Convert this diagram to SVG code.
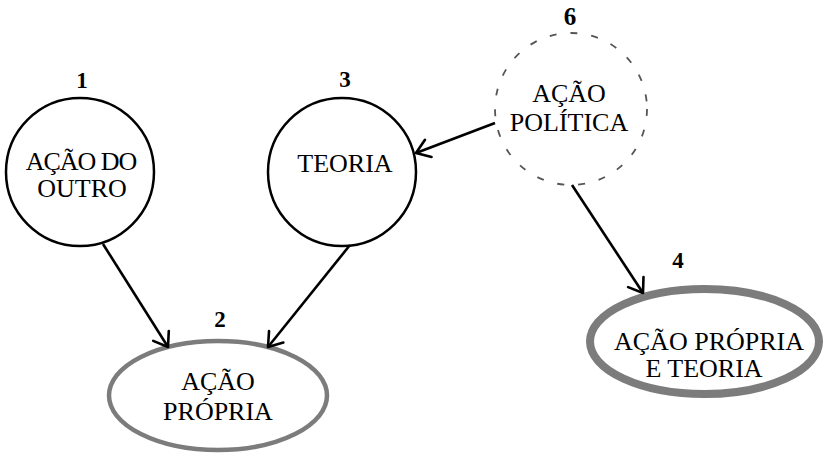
<svg xmlns="http://www.w3.org/2000/svg" width="824" height="457" viewBox="0 0 824 457">
<style>
.lbl{font-family:"Liberation Serif","Times New Roman",serif;font-size:26px;fill:#000;text-anchor:middle}
.num{font-family:"Liberation Serif","Times New Roman",serif;font-size:23px;font-weight:bold;fill:#000;text-anchor:middle}
.solid{fill:#fff;stroke:#000;stroke-width:2.5}
.dash{fill:#fff;stroke:#555;stroke-width:1.8;stroke-dasharray:7 14}
.gray{fill:#fff;stroke:#7c7c7c}
.conn{stroke:#000;stroke-width:2.6;fill:none;marker-end:url(#arr)}
</style>
<defs>
<marker id="arr" markerUnits="userSpaceOnUse" markerWidth="20" markerHeight="24" viewBox="-2 -2 18 24" refX="13.1" refY="10" orient="auto">
<path d="M0,0.8 L13.1,10 L0,19.2" fill="none" stroke="#000" stroke-width="2.6" stroke-linecap="round" stroke-linejoin="round"/>
</marker>
</defs>
<g id="node1">
<circle class="solid" cx="80" cy="172" r="74"/>
<text class="num" x="82" y="88">1</text>
<text class="lbl" x="81" y="170" style="letter-spacing:-1px">AÇÃO DO</text>
<text class="lbl" x="82" y="197">OUTRO</text>
</g>
<g id="node3">
<circle class="solid" cx="342" cy="172" r="74"/>
<text class="num" x="345" y="87">3</text>
<text class="lbl" x="345" y="172">TEORIA</text>
</g>
<g id="node6">
<circle class="dash" cx="571" cy="109" r="76"/>
<text class="num" x="570" y="25" style="font-size:25px">6</text>
<text class="lbl" x="569" y="102">AÇÃO</text>
<text class="lbl" x="569" y="131">POLÍTICA</text>
</g>
<g id="node2">
<ellipse class="gray" cx="218" cy="395.5" rx="109" ry="54.5" stroke-width="4.5"/>
<text class="num" x="220" y="327">2</text>
<text class="lbl" x="218" y="390">AÇÃO</text>
<text class="lbl" x="218" y="420">PRÓPRIA</text>
</g>
<g id="node4">
<ellipse class="gray" cx="704.5" cy="341.5" rx="114.5" ry="52.5" stroke-width="8"/>
<text class="num" x="678" y="268">4</text>
<text class="lbl" x="709" y="350">AÇÃO PRÓPRIA</text>
<text class="lbl" x="704" y="377">E TEORIA</text>
</g>
<g id="connectors">
<line class="conn" x1="103" y1="244" x2="168" y2="347"/>
<line class="conn" x1="350" y1="245" x2="268" y2="347"/>
<line class="conn" x1="495" y1="123" x2="416" y2="153"/>
<line class="conn" x1="572" y1="185" x2="643" y2="293"/>
</g>
</svg>
